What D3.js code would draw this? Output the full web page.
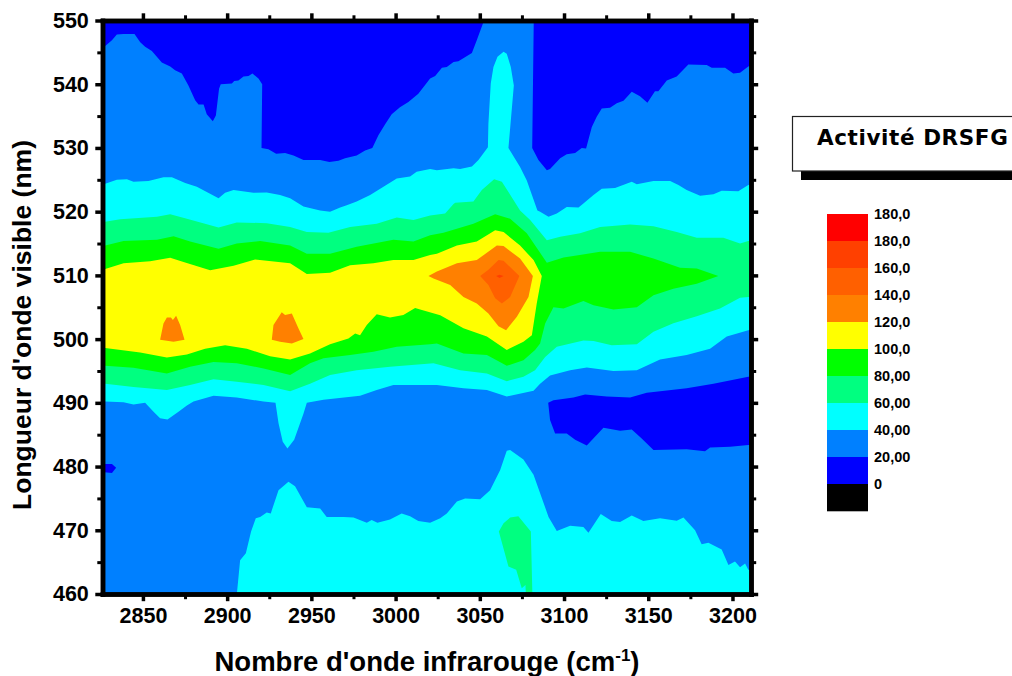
<!DOCTYPE html>
<html><head><meta charset="utf-8">
<script src="https://cdnjs.cloudflare.com/ajax/libs/d3/7.8.5/d3.min.js"></script>
<style>html,body{margin:0;padding:0;background:#fff}svg{display:block}text{font-family:"Liberation Sans",Arial,sans-serif;font-weight:bold;fill:#000}</style>
</head><body><svg id="c" width="1012" height="676"></svg>
<script>
const legendLabels=["180,0","180,0","160,0","140,0","120,0","100,0","80,00","60,00","40,00","20,00","0"];
const legendColors=["#ff0000","#ff4000","#ff6000","#ff8000","#ffff00","#00ff00","#00ff80","#00ffff","#0080ff","#0000ff","#000000"];
const xTicks=[2850,2900,2950,3000,3050,3100,3150,3200];
const xMinor=[2875,2925,2975,3025,3075,3125,3175];
const yTicks=[460,470,480,490,500,510,520,530,540,550];
const yMinor=[465,475,485,495,505,515,525,535,545];
const darkTopLeft=[[2824,545.5],[2827.6,546],[2831.6,546.9],[2834.5,547.8],[2838.5,547.9],[2845,547.9],[2848.4,546.6],[2851.3,545.9],[2855.3,545.2],[2861.2,543.4],[2866.2,542.8],[2869.1,542.2],[2873.1,541.7],[2877,539.8],[2881,537.5],[2883,536.8],[2886,536.8],[2887.9,535.3],[2891.5,534.2],[2893.3,535.1],[2895.2,539.3],[2896.2,540],[2902.8,540.1],[2904.2,540.5],[2906.7,540.6],[2909.7,541.2],[2912.7,541.3],[2915,541.7],[2918.6,540.9],[2920.8,540],[2920.4,530],[2924.5,529.8],[2929.1,529.1],[2934.4,529.2],[2939.4,528.8],[2945.3,528.1],[2955.2,528.1],[2960.7,527.8],[2966.1,528],[2970,528.4],[2976.9,528.8],[2981.9,529.6],[2986.2,530],[2989.8,532],[2993.8,533.7],[2997.7,535.3],[3002.6,536.4],[3007.6,537.2],[3013.5,538.5],[3020.5,540.9],[3023.5,541.3],[3027.5,542.6],[3030.4,542.7],[3034.4,543.5],[3037.3,543.6],[3045.3,544.9],[3048.2,546.9],[3051.8,549.5],[3053,552],[2824,552]];
const darkTopRight=[[3082,552],[3082,549.5],[3081.1,530],[3084.8,528.1],[3089.8,526.5],[3091.7,526.7],[3097.7,528.4],[3101.6,529],[3106.6,529.2],[3110.5,530],[3113.1,529.9],[3116.5,533.3],[3119.4,534.9],[3122.4,536.2],[3127.3,536.3],[3131.3,537],[3135.3,537.4],[3140.2,538.8],[3145.1,538.1],[3149.5,537.1],[3154,538.9],[3156,538.9],[3161,540.6],[3166.9,541.2],[3173.8,543.1],[3184.7,543],[3187.7,542.6],[3195.6,542.6],[3200.5,541.7],[3204.5,541.8],[3209.4,542.8],[3213,543.2],[3213,552]];
const darkLowerRight=[[3090.6,490],[3093.7,490.4],[3105.6,490.85],[3112.5,491.3],[3125.4,491],[3139.2,490.85],[3149.1,491.6],[3153.1,491.7],[3172.8,492.3],[3188.7,493],[3209.4,494.1],[3213,494.2],[3213,483.4],[3209.4,483.4],[3198.6,483.1],[3186.7,483],[3183.7,482.4],[3172.8,482.7],[3153.1,482.6],[3146.1,484.4],[3140.2,485.8],[3133.3,485.6],[3123.4,486.1],[3113.5,483.3],[3106.6,484.2],[3101.6,485.2],[3094.7,485.2],[3091.7,487.3]];
const darkLeftSpot=[[2824,480.4],[2831.6,480.4],[2834.1,479.8],[2831.6,479],[2824,479.2]];
const cyanBand=[[2824,524.2],[2827.6,524.4],[2834.5,525],[2840.5,525.1],[2844.4,524.7],[2853.3,524.8],[2862.2,525.4],[2867.2,525.4],[2875.1,524.5],[2882,523.9],[2887.9,523.1],[2894.9,522.1],[2898.8,522.95],[2903.8,523.4],[2915.6,522.95],[2923.5,523],[2931.4,522.6],[2937.4,522.1],[2945.3,520.8],[2955.2,520.2],[2961.1,520],[2967.1,520.65],[2971,521],[2976.9,521.6],[2984.9,522.6],[2992.8,523.9],[3000.7,525.2],[3008.6,525.5],[3012.5,526.25],[3020.5,526.7],[3024.5,526.5],[3034.4,526.8],[3038.3,526.7],[3045.3,527.1],[3049.2,528.1],[3054.8,530.1],[3055.1,533.8],[3056.5,540.1],[3058.1,542.7],[3060.5,544.3],[3064.1,545.1],[3066,544.8],[3068.4,542.7],[3070.2,539.8],[3067,530],[3073.9,527],[3077.9,524.9],[3084.2,520.2],[3085.8,520],[3090.8,519.2],[3095.7,519.7],[3101.6,520.75],[3108.6,520.65],[3111.5,521.3],[3117.5,522.6],[3122.4,523.6],[3130.3,523.7],[3140.2,524.7],[3143.2,524.3],[3153.1,524.8],[3163,524.8],[3167.9,524.2],[3172.8,523.4],[3180.8,522.5],[3188.7,522.75],[3193.6,523.3],[3203.5,523.2],[3209.4,524.2],[3213,524.4],[3213,501.6],[3209.4,501.4],[3196.6,500.4],[3186.7,498.5],[3172.8,497.5],[3157,496.8],[3143.2,495.1],[3129.3,495],[3113.5,495.55],[3103.6,495.1],[3091.7,494.3],[3085.8,493],[3081.9,491.9],[3066,491],[3054.2,492],[3040.3,492.3],[3024.5,492.8],[2998.7,492.8],[2988.8,492],[2978.9,491.1],[2957.2,490.5],[2947.3,490],[2945.3,488.3],[2939.8,484.2],[2935.8,482.85],[2933,483.9],[2930.5,486.8],[2928.7,490],[2921.6,490.2],[2905.7,490.85],[2891.9,491.1],[2880,490.2],[2876.1,489.6],[2871.1,488.6],[2864.6,487.4],[2860.2,487.6],[2856.3,488.6],[2851.3,490],[2844.4,489.75],[2838.5,490.1],[2827.6,490.2],[2824,490.2]];
const cyanLower=[[2905.4,459],[2907.7,465.3],[2911.1,466.4],[2914.2,469.8],[2917,471.9],[2919.6,472.1],[2923.5,472.8],[2925.9,472.65],[2930.5,476.3],[2936.4,477.6],[2940.3,476.9],[2947.3,473.6],[2955.2,473.4],[2959.1,472.1],[2969,472.1],[2975,472],[2982.9,471.2],[2985.8,471.6],[2989.2,471.2],[2996.7,471.7],[3003.6,472.65],[3008.6,472.2],[3013.5,471.45],[3020.5,471.2],[3026.5,471.9],[3030.4,472.65],[3036.4,474.5],[3041.3,475],[3050.2,474.85],[3056.1,476.3],[3062.1,479.45],[3066,482.5],[3068,482.6],[3075.9,481.1],[3081.9,478.7],[3090.8,472.1],[3095.7,469.9],[3103.6,470.7],[3111.5,470.5],[3114.5,469.6],[3121.8,472.55],[3128.3,471.45],[3133.3,471.3],[3140.2,472.3],[3147.1,471.45],[3157,471.9],[3166.9,471.5],[3170.9,472],[3177.8,470],[3181.7,467.8],[3185.7,468.05],[3193.6,467],[3197.6,464.55],[3201.5,465.1],[3204.5,464.2],[3207.5,464.8],[3209.4,463.8],[3213,463.7],[3213,459]];
const mintBand=[[2824,518.2],[2827.6,518.4],[2836.5,518.8],[2858.3,519.2],[2866.2,519.6],[2876.1,518.9],[2894.9,517.5],[2905.7,518.3],[2923.5,518.2],[2937.4,517.6],[2947.3,516.8],[2960.1,516.7],[2973,517.6],[2988.8,518.1],[3000.7,519.1],[3010.6,518.7],[3020.5,519.4],[3029.4,519.7],[3034.4,521.2],[3035.4,521.4],[3046.2,521.6],[3051.2,523.4],[3058.5,525.1],[3063.1,524.7],[3067,523.1],[3073.9,520.2],[3079.9,518.7],[3089.8,515.5],[3097.7,516.05],[3109.5,516.6],[3121.4,517.6],[3139.2,518],[3153.1,517.7],[3166.9,516.8],[3178.8,515.9],[3194.6,515.9],[3204.5,515],[3209.4,515.4],[3213,515.5],[3213,506.7],[3209.4,506.6],[3204.5,506.5],[3192.6,504.8],[3178.8,503.6],[3164.9,502.5],[3153.1,501.15],[3143.2,499.2],[3128.3,499.05],[3117.5,499.7],[3111.5,499.8],[3095.7,498.8],[3088.8,497.2],[3082.8,495.1],[3075.9,494.1],[3066,493.4],[3054.2,494.6],[3038.3,495.1],[3022.5,496.2],[2996.7,495.65],[2976.9,495.1],[2961.1,494.35],[2949.2,493],[2937.4,491.8],[2921.6,492.8],[2905.7,493.3],[2891.9,493.7],[2878,492.8],[2864.2,492],[2844.4,492.5],[2827.6,493],[2824,493]];
const mintLower=[[3061.3,469.8],[3064.1,471.1],[3068,472],[3072.9,472.2],[3080.3,469.8],[3081.3,459],[3077.5,459],[3077.1,461.4],[3074.9,460.9],[3071.6,463.8],[3067,464.3]];
const greenBand=[[2824,514.6],[2827.6,514.7],[2838.5,515.4],[2858.3,515.6],[2868.2,516.15],[2878,515.3],[2894.9,514.2],[2905.7,515],[2919.6,515.4],[2937.4,514.7],[2947.3,513.4],[2961.1,513.4],[2976.9,514.5],[2998.7,515.6],[3010.6,515.3],[3020.5,516.3],[3028.4,516.7],[3046.2,518.1],[3059.1,519.6],[3068,518.9],[3077.9,516.6],[3089.8,512],[3099.7,512.8],[3121.4,513.7],[3139.2,513.7],[3153.1,512.65],[3168.9,511.2],[3178.8,511.1],[3191.6,509.9],[3178.8,508.7],[3164.9,507.9],[3153.1,506.9],[3143.2,505],[3129.3,504.65],[3117.5,505.3],[3111.5,506],[3099.7,504.8],[3093.7,505],[3088.8,502.45],[3085.8,499.3],[3082.8,498.3],[3075.9,496.7],[3066,495.8],[3054.2,497.5],[3040.3,497.75],[3024.5,499.3],[3020.5,499.2],[3000.7,498.8],[2986.8,498],[2973,497.5],[2957.2,497],[2949.2,496.2],[2937.4,494.35],[2921.6,495.4],[2905.7,496.2],[2891.9,496.4],[2878,495.65],[2864.2,494.6],[2844.4,495.5],[2827.6,495.8],[2824,495.8]];
const yellowBand=[[2824,510.9],[2827.6,511],[2838.5,511.9],[2854.3,512.2],[2866.2,512.75],[2874.1,512.1],[2889.9,510.8],[2903.8,511.5],[2916.6,512.5],[2937.4,511.9],[2947.3,510.2],[2961.1,510.4],[2973,511.6],[2986.8,511.9],[2998.7,512.4],[3010.6,512.4],[3020.5,513.2],[3024.5,513.4],[3036.4,514.7],[3048.2,515.3],[3059.1,517.1],[3064.1,516.8],[3073.9,514.7],[3081.9,512.4],[3086.8,509.9],[3083.8,505.6],[3080.9,500.6],[3075.9,499.6],[3066,498.3],[3054.2,500.4],[3040.3,501.7],[3026.5,503.76],[3014.6,504.65],[3011.6,504.9],[3004.6,503.8],[2996.7,503.4],[2988.8,503.9],[2982.9,502.2],[2978.9,500.6],[2976,500.9],[2972,500.1],[2961.1,499.2],[2949.2,497.75],[2937.4,496.8],[2925.5,497.3],[2911.7,498.5],[2898.8,499.05],[2886.9,498.5],[2876.1,497.6],[2864.2,497.1],[2848.4,497.9],[2827.6,498.6],[2824,498.6]];
const orangeMain=[[3019.5,509.9],[3024.5,510.6],[3036.4,511.9],[3048.2,512.4],[3060.1,514.7],[3064.1,514.6],[3073.9,512.65],[3081.5,509.9],[3078.9,506.6],[3072,503.5],[3065.6,501.4],[3061.1,502],[3055.1,504],[3048.2,505.6],[3040.3,506.6],[3032.4,508.5],[3022.5,509.5]];
const orangeSpotA=[[2860.2,499.9],[2862.2,502.45],[2864.2,503.4],[2866.6,503.4],[2867.8,503],[2869.7,503.65],[2872.1,502.2],[2874.7,499.9],[2868.2,499.6]];
const orangeSpotB=[[2926.5,499.9],[2927.5,502.2],[2932.4,504.2],[2934.4,503.8],[2938.4,504],[2942.3,501.7],[2945.3,500],[2938.4,499.3],[2931.4,499.6]];
const deepOrange=[[3050.2,509.9],[3055.1,510.9],[3061.1,512.4],[3064.1,512.3],[3073.5,509.9],[3068,506.6],[3063.1,505.6],[3059.1,506.4],[3055.1,508.5]];
const redOrange=[[3059.7,509.9],[3061.7,510.1],[3064.1,509.9],[3061.7,509.6]];
const layers=[[darkTopLeft,"20,00"],[darkTopRight,"20,00"],[darkLowerRight,"20,00"],[darkLeftSpot,"20,00"],[cyanBand,"60,00"],[cyanLower,"60,00"],[mintBand,"80,00"],[mintLower,"80,00"],[greenBand,"100,0"],[yellowBand,"120,0"],[orangeMain,"140,0"],[orangeSpotA,"140,0"],[orangeSpotB,"140,0"],[deepOrange,"160,0"],[redOrange,"180,0"]];
const colorOf=l=>legendColors[legendLabels.lastIndexOf(l)];

const svg=d3.select("#c");
const x=d3.scaleLinear().domain([2826,3211]).range([102.5,751]);
const y=d3.scaleLinear().domain([460,550]).range([594,20.5]);
svg.append("clipPath").attr("id","pa").append("rect").attr("x",x(2826)).attr("y",y(550)).attr("width",x(3211)-x(2826)).attr("height",y(460)-y(550));
const plot=svg.append("g").attr("clip-path","url(#pa)");
plot.append("rect").attr("x",x(2826)).attr("y",y(550)).attr("width",x(3211)-x(2826)).attr("height",y(460)-y(550)).attr("fill",colorOf("40,00"));
const line=d3.line().x(d=>x(d[0])).y(d=>y(d[1]));
plot.selectAll("path.l").data(layers).join("path").attr("class","l").attr("d",d=>line(d[0])+"Z").attr("fill",d=>colorOf(d[1]));

function ax(gen,tr,ticks,size,w,labels){
  const g=svg.append("g").attr("transform",tr).call(gen.tickValues(ticks).tickSize(size).tickSizeOuter(0).tickPadding(labels?6.5:0).tickFormat(labels?d3.format("d"):""));
  g.select(".domain").attr("stroke","#000").attr("stroke-width",4.5).attr("stroke-linecap","square");
  g.selectAll(".tick line").attr("stroke","#000").attr("stroke-width",w);
  g.selectAll("text").attr("font-size",21.5).attr("font-family","Liberation Sans").attr("font-weight","bold").attr("fill","#000");
  return g;
}
const mk=5+2.2, mn=3+2.2;
ax(d3.axisBottom(x),`translate(0,${y(460)})`,xMinor,mn,3,false);
ax(d3.axisBottom(x),`translate(0,${y(460)})`,xTicks,mk,3.5,true);
ax(d3.axisTop(x),`translate(0,${y(550)})`,xMinor,mn,3,false);
ax(d3.axisTop(x),`translate(0,${y(550)})`,xTicks,mk,3.5,false);
ax(d3.axisLeft(y),`translate(${x(2826)},0)`,yMinor,mn,3,false);
ax(d3.axisLeft(y),`translate(${x(2826)},0)`,yTicks,mk,3.5,true);
ax(d3.axisRight(y),`translate(${x(3211)},0)`,yMinor,mn,3,false);
ax(d3.axisRight(y),`translate(${x(3211)},0)`,yTicks,mk,3.5,false);

const xt=svg.append("text").attr("x",427).attr("y",670.5).attr("text-anchor","middle").attr("font-size",27.5);
xt.append("tspan").text("Nombre d'onde infrarouge (cm");
xt.append("tspan").attr("font-size",17).attr("dy",-10).text("-1");
xt.append("tspan").attr("dy",10).text(")");
svg.append("text").attr("transform","translate(31,325) rotate(-90)").attr("text-anchor","middle").attr("font-size",26.5).text("Longueur d'onde visible (nm)");

svg.append("rect").attr("x",801).attr("y",171).attr("width",212).attr("height",9).attr("fill","#000");
svg.append("rect").attr("x",792.5).attr("y",116.5).attr("width",221).attr("height",54.5).attr("fill","#fff").attr("stroke","#222").attr("stroke-width",1.2);
svg.append("text").attr("x",817).attr("y",144.5).style("font-family","'DejaVu Sans'").attr("font-size",21.5).attr("letter-spacing",0.6).text("Activité DRSFG");

const barG=svg.append("g");
const idx=d3.range(legendLabels.length);
const bandI=d3.scaleBand().domain(idx).range([214,511]);
barG.selectAll("rect").data(idx).join("rect").attr("x",827).attr("width",41).attr("y",i=>bandI(i)).attr("height",bandI.bandwidth()+0.3).attr("fill",i=>legendColors[i]);
barG.selectAll("text").data(idx).join("text").attr("x",874).attr("y",i=>bandI(i)+5).attr("font-size",14.5).text(i=>legendLabels[i]);
</script></body></html>
